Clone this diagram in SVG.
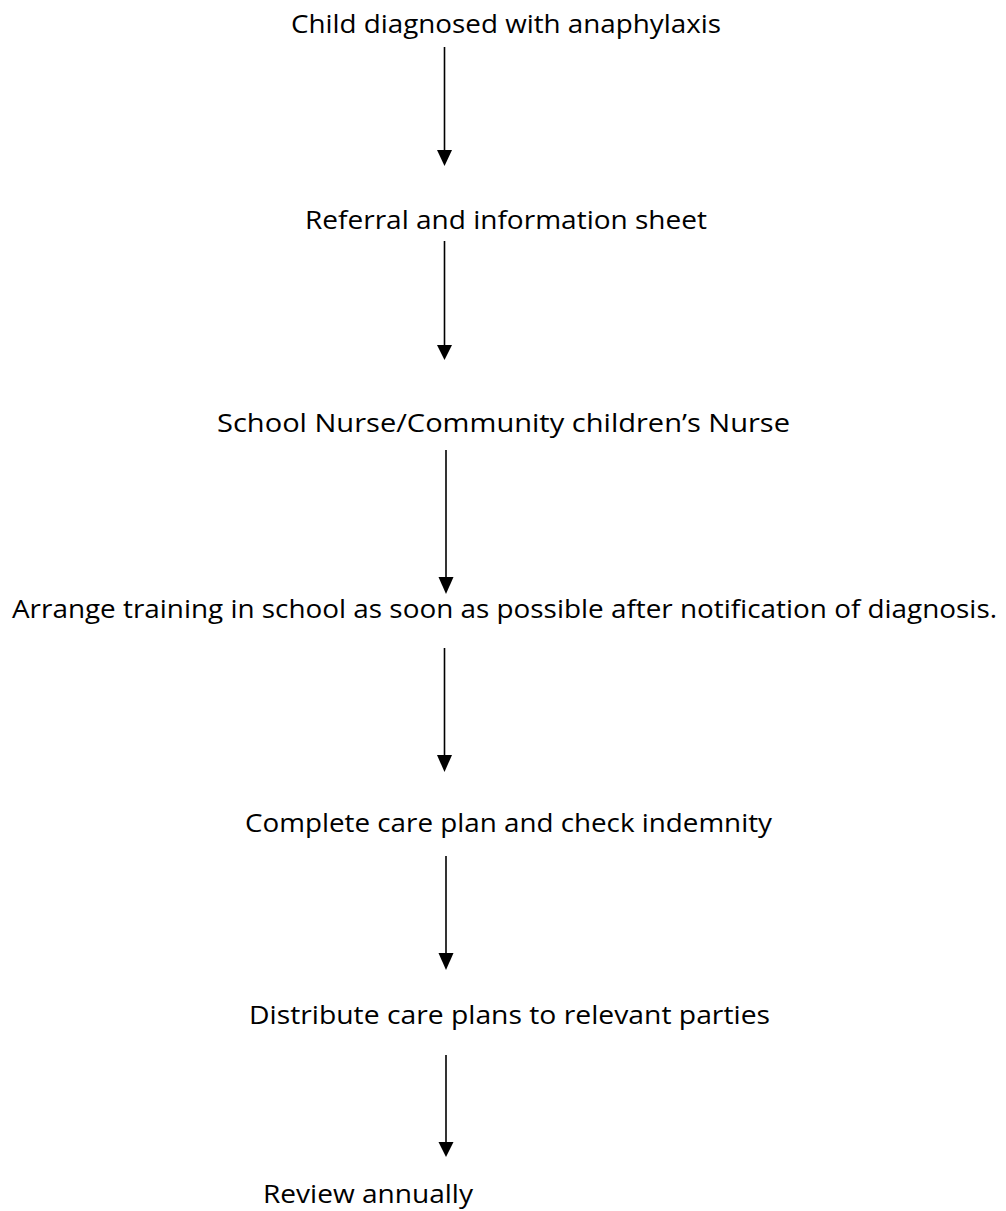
<svg xmlns="http://www.w3.org/2000/svg" width="1006" height="1211" viewBox="0 0 1006 1211">
<style>
text { font-family: "Open Sans", "Noto Sans", "Liberation Sans", sans-serif; font-size: 25.5px; fill: #000; }
.c { stroke: #000; stroke-width: 1.6; fill: none; }
.h { fill: #000; stroke: none; }
</style>
<rect width="1006" height="1211" fill="#fff"/>
<g id="connectors">
<path class="c" d="M444.5,47 V150"/><path class="h" d="M437,150 H452 L444.5,166 Z"/>
<path class="c" d="M444.5,241 V345"/><path class="h" d="M437,345 H452 L444.5,360 Z"/>
<path class="c" d="M446,450 V577"/><path class="h" d="M438.5,577 H453.5 L446,594 Z"/>
<path class="c" d="M444.5,648 V755"/><path class="h" d="M437,755 H452 L444.5,772 Z"/>
<path class="c" d="M446,856 V953"/><path class="h" d="M438.5,953 H453.5 L446,970 Z"/>
<path class="c" d="M446,1055 V1142"/><path class="h" d="M438.5,1142 H453.5 L446,1157 Z"/>
</g>
<g id="n1"><text x="291" y="33" textLength="430" lengthAdjust="spacingAndGlyphs">Child diagnosed with anaphylaxis</text></g>
<g id="n2"><text x="305" y="229" textLength="402" lengthAdjust="spacingAndGlyphs">Referral and information sheet</text></g>
<g id="n3"><text x="217" y="432" textLength="573" lengthAdjust="spacingAndGlyphs">School Nurse/Community children’s Nurse</text></g>
<g id="n4"><text x="12" y="618" textLength="985" lengthAdjust="spacingAndGlyphs">Arrange training in school as soon as possible after notification of diagnosis.</text></g>
<g id="n5"><text x="245" y="832" textLength="527" lengthAdjust="spacingAndGlyphs">Complete care plan and check indemnity</text></g>
<g id="n6"><text x="249" y="1024" textLength="521" lengthAdjust="spacingAndGlyphs">Distribute care plans to relevant parties</text></g>
<g id="n7"><text x="263" y="1203" textLength="210" lengthAdjust="spacingAndGlyphs">Review annually</text></g>
</svg>
